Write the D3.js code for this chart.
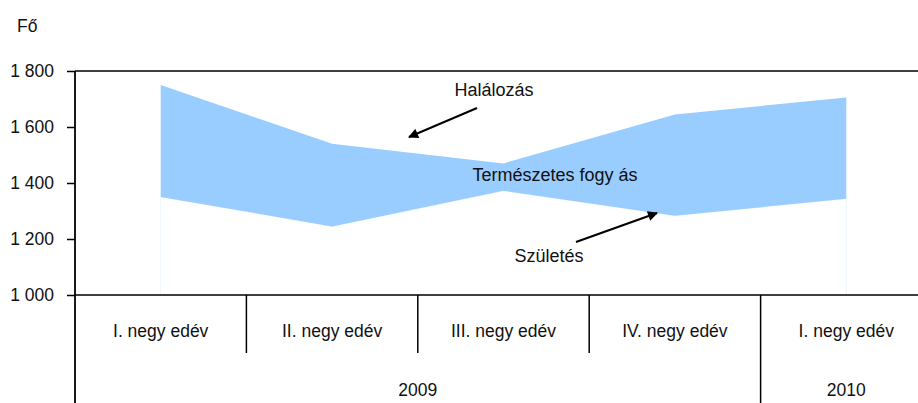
<!DOCTYPE html>
<html>
<head>
<meta charset="utf-8">
<script src="https://cdnjs.cloudflare.com/ajax/libs/d3/7.8.5/d3.min.js"></script>
<style>
  body { margin: 0; background: #fff; }
  svg { display: block; font-family: "Liberation Sans", Arial, sans-serif; }
</style>
</head>
<body>
<div id="chart"></div>
<script>
// data
var quarters = ["I. negy edév", "II. negy edév", "III. negy edév", "IV. negy edév", "I. negy edév"];
var years = ["2009", "2010"];
var yearSpan = [4, 1];   // how many quarters each year covers
var deaths = [1750, 1540, 1470, 1645, 1705];   // Halálozás
var births = [1350, 1245, 1372, 1283, 1344];   // Születés
var yTicks = [1000, 1200, 1400, 1600, 1800];

(function () {
    var w = 918, h = 403;
    var pLeft = 75, pRight = 932, pTop = 71, pBottom = 295;
    var fs = 17.5;

    var svg = d3.select("#chart").append("svg")
        .attr("width", w).attr("height", h);

    var x = d3.scaleBand().domain(d3.range(quarters.length)).range([pLeft, pRight]).padding(0);
    var y = d3.scaleLinear().domain([1000, 1800]).range([pBottom, pTop]);
    var cx = function (i) { return x(i) + x.bandwidth() / 2; };

    // white area under births (faint edge like the original)
    var baseArea = d3.area()
        .x(function (d, i) { return cx(i); })
        .y0(y(1000))
        .y1(function (d) { return y(d); });
    svg.append("path").datum(births)
        .attr("d", baseArea)
        .attr("fill", "#fff")
        .attr("stroke", "#eef6ff")
        .attr("stroke-width", 1);

    // natural decrease band
    var band = d3.area()
        .x(function (d, i) { return cx(i); })
        .y0(function (d, i) { return y(births[i]); })
        .y1(function (d) { return y(d); });
    svg.append("path").datum(deaths)
        .attr("d", band)
        .attr("fill", "#99ccff");

    // y axis
    var yAxis = svg.append("g").attr("transform", "translate(" + pLeft + ",0)")
        .call(d3.axisLeft(y).tickValues(yTicks).tickSize(8).tickPadding(13)
            .tickFormat(function (d) { return d3.format(",")(d).replace(",", " "); }));
    yAxis.select(".domain").remove();
    yAxis.selectAll("line").attr("stroke", "#000").attr("stroke-width", 1.5);
    yAxis.selectAll("text").attr("font-size", fs).attr("fill", "#111")
        .attr("font-family", "Liberation Sans, Arial, sans-serif");

    // frame lines
    svg.append("line").attr("x1", pLeft).attr("x2", w).attr("y1", y(1800)).attr("y2", y(1800))
        .attr("stroke", "#000").attr("stroke-width", 1.5);
    svg.append("line").attr("x1", pLeft).attr("x2", w).attr("y1", y(1000)).attr("y2", y(1000))
        .attr("stroke", "#000").attr("stroke-width", 1.5);
    svg.append("line").attr("x1", pLeft).attr("x2", pLeft).attr("y1", pTop).attr("y2", h)
        .attr("stroke", "#000").attr("stroke-width", 1.8);

    // category separators
    var yearEnds = [];
    var acc = 0;
    yearSpan.forEach(function (s) { acc += s; yearEnds.push(acc); });
    for (var i = 1; i < quarters.length; i++) {
        var isYear = yearEnds.indexOf(i) >= 0;
        svg.append("line").attr("x1", x(i)).attr("x2", x(i))
            .attr("y1", pBottom).attr("y2", isYear ? h : 353)
            .attr("stroke", "#000").attr("stroke-width", 1.5);
    }

    // quarter labels
    svg.selectAll(".qlab").data(quarters).enter().append("text")
        .attr("class", "qlab")
        .attr("x", function (d, i) { return cx(i); })
        .attr("y", 337)
        .attr("text-anchor", "middle")
        .attr("font-size", fs).attr("fill", "#111")
        .text(function (d) { return d; });

    // year labels
    var start = 0;
    years.forEach(function (yr, k) {
        var x0 = x(start), x1 = x(start + yearSpan[k] - 1) + x.bandwidth();
        svg.append("text")
            .attr("x", (x0 + x1) / 2)
            .attr("y", 396)
            .attr("text-anchor", "middle")
            .attr("font-size", fs).attr("fill", "#111")
            .text(yr);
        start += yearSpan[k];
    });

    // unit label
    svg.append("text").attr("x", 17).attr("y", 32)
        .attr("font-size", fs).attr("fill", "#111").text("Fő");

    // annotations
    var defs = svg.append("defs");
    defs.append("marker").attr("id", "arr")
        .attr("viewBox", "0 0 10 10").attr("refX", 9).attr("refY", 5)
        .attr("markerWidth", 5.5).attr("markerHeight", 5).attr("orient", "auto")
        .append("path").attr("d", "M0,0 L10,5 L0,10 z").attr("fill", "#000");

    svg.append("line").attr("x1", 477).attr("y1", 108).attr("x2", 409).attr("y2", 137)
        .attr("stroke", "#000").attr("stroke-width", 2).attr("marker-end", "url(#arr)");
    svg.append("line").attr("x1", 576).attr("y1", 242).attr("x2", 657).attr("y2", 213)
        .attr("stroke", "#000").attr("stroke-width", 2).attr("marker-end", "url(#arr)");

    svg.append("text").attr("x", 494).attr("y", 96).attr("text-anchor", "middle")
        .attr("font-size", 18).attr("fill", "#111").text("Halálozás");
    svg.append("text").attr("x", 555).attr("y", 181).attr("text-anchor", "middle")
        .attr("font-size", 18).attr("fill", "#111").text("Természetes fogy ás");
    svg.append("text").attr("x", 549).attr("y", 262).attr("text-anchor", "middle")
        .attr("font-size", 18).attr("fill", "#111").text("Születés");
})();
</script>
</body>
</html>
